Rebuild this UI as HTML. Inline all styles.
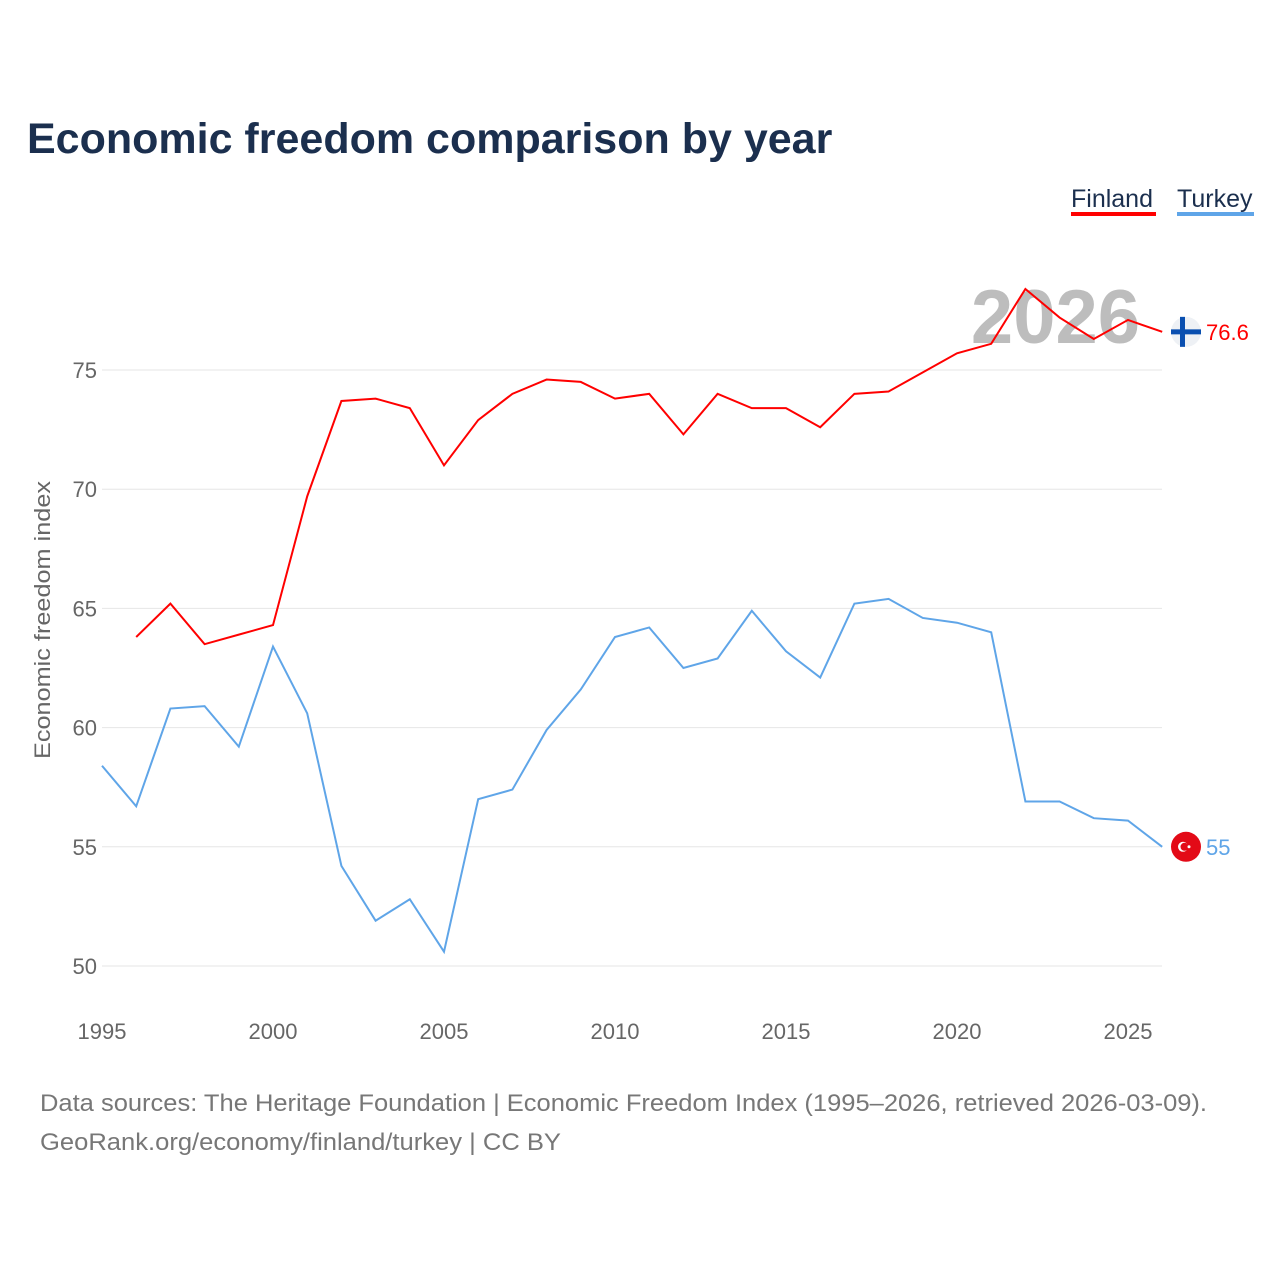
<!DOCTYPE html>
<html><head><meta charset="utf-8"><style>
body{margin:0;background:#fff;width:1280px;height:1280px;overflow:hidden;font-family:"Liberation Sans",sans-serif}
</style></head><body>
<svg id="chart" width="1280" height="1280" xmlns="http://www.w3.org/2000/svg" font-family="Liberation Sans, sans-serif">
<text x="27" y="153" font-size="43" font-weight="bold" fill="#1b2f4e">Economic freedom comparison by year</text>
<g><text x="1071" y="207" font-size="25" fill="#1b2f4e">Finland</text><rect x="1071" y="212" width="85" height="4" fill="#ff0000"/></g>
<g><text x="1177" y="207" font-size="25" fill="#1b2f4e">Turkey</text><rect x="1177" y="212" width="77" height="4" fill="#5fa5e8"/></g>
<text x="1140" y="343" text-anchor="end" font-size="76" font-weight="bold" fill="#bdbdbd">2026</text>
<text transform="translate(50,620) rotate(-90)" text-anchor="middle" font-size="22" fill="#666" textLength="278" lengthAdjust="spacingAndGlyphs">Economic freedom index</text>
<g id="grid"></g><g id="xt"></g><g id="lines"></g>
<text x="40" y="1111" font-size="24" fill="#777" textLength="1167" lengthAdjust="spacingAndGlyphs">Data sources: The Heritage Foundation | Economic Freedom Index (1995–2026, retrieved 2026-03-09).</text>
<text x="40" y="1150" font-size="24" fill="#777" textLength="521" lengthAdjust="spacingAndGlyphs">GeoRank.org/economy/finland/turkey | CC BY</text>
</svg>
<script>
const years=[1995,1996,1997,1998,1999,2000,2001,2002,2003,2004,2005,2006,2007,2008,2009,2010,2011,2012,2013,2014,2015,2016,2017,2018,2019,2020,2021,2022,2023,2024,2025,2026];
const finland=[null,63.8,65.2,63.5,63.9,64.3,69.7,73.7,73.8,73.4,71.0,72.9,74.0,74.6,74.5,73.8,74.0,72.3,74.0,73.4,73.4,72.6,74.0,74.1,74.9,75.7,76.1,78.4,77.2,76.3,77.1,76.6];
const turkey=[58.4,56.7,60.8,60.9,59.2,63.4,60.6,54.2,51.9,52.8,50.6,57.0,57.4,59.9,61.6,63.8,64.2,62.5,62.9,64.9,63.2,62.1,65.2,65.4,64.6,64.4,64.0,56.9,56.9,56.2,56.1,55.0];
const yTicks=[50,55,60,65,70,75];
const xTicks=[1995,2000,2005,2010,2015,2020,2025];
const NS="http://www.w3.org/2000/svg";
const X=y=>102+(y-1995)*34.2, Y=v=>966-(v-50)*23.84;
function mk(t,a,p){const e=document.createElementNS(NS,t);for(const k in a)e.setAttribute(k,a[k]);p.appendChild(e);return e;}
const g=document.getElementById('grid');
yTicks.forEach(v=>{
 const l=mk('line',{x1:102,x2:1162,y1:Y(v),y2:Y(v),stroke:'#e6e6e6','stroke-width':1},g);
 
 
 const t=mk('text',{x:97,y:Y(v)+8,'text-anchor':'end','font-size':22,fill:'#666'},g);t.textContent=v;
 
 
});
const xt=document.getElementById('xt');
xTicks.forEach(v=>{
 const t=mk('text',{x:X(v),y:1039,'text-anchor':'middle','font-size':22,fill:'#666'},xt);t.textContent=v;
 
 
});
const L=document.getElementById('lines');
function line(data,color,name){
 let d='';data.forEach((v,i)=>{if(v==null)return;d+=(d?'L':'M')+X(years[i])+','+Y(v);});
 const p=mk('path',{d:d,fill:'none',stroke:color,'stroke-width':2},L);
 
 
}
line(finland,'#ff0000','finland');line(turkey,'#5fa5e8','turkey');
const fl=finland[finland.length-1], tl=turkey[turkey.length-1];
const fg=mk('g',{},L);


mk('circle',{cx:1186,cy:Y(fl),r:15,fill:'#eef1f5'},fg);
mk('rect',{x:1171,y:Y(fl)-2.5,width:30,height:5,fill:'#0a4fb0'},fg);
mk('rect',{x:1180,y:Y(fl)-15,width:5,height:30,fill:'#0a4fb0'},fg);
const ft=mk('text',{x:1206,y:Y(fl)+8,'font-size':22,fill:'#ff0000'},L);ft.textContent=fl;


const tg=mk('g',{},L);


mk('circle',{cx:1186,cy:Y(tl),r:15,fill:'#e30a17'},tg);
mk('circle',{cx:1183,cy:Y(tl),r:5,fill:'#fff'},tg);
mk('circle',{cx:1184.5,cy:Y(tl),r:4,fill:'#e30a17'},tg);
mk('circle',{cx:1189,cy:Y(tl),r:1.5,fill:'#fff'},tg);
const tt=mk('text',{x:1206,y:Y(tl)+8,'font-size':22,fill:'#5fa5e8'},L);tt.textContent=tl;


</script>
</body></html>
